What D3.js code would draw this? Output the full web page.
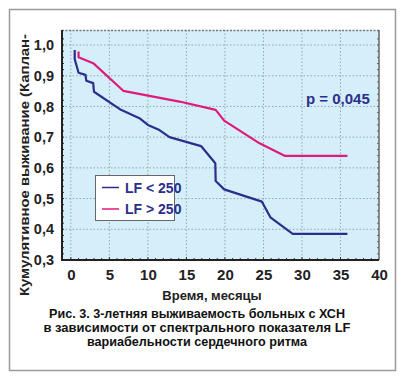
<!DOCTYPE html>
<html><head><meta charset="utf-8">
<script src="https://cdn.jsdelivr.net/npm/d3@7"></script>
<style>
html,body{margin:0;padding:0;background:#fff;}
svg text{font-family:"Liberation Sans Narrow","Liberation Sans",Arial,sans-serif;font-weight:bold;}
</style>
</head><body>
<svg id="c" width="400" height="379"></svg>
<script>
const xTicks = [0,5,10,15,20,25,30,35,40];
const yTicks = [0.3,0.4,0.5,0.6,0.7,0.8,0.9,1.0];
const seriesNames = ["LF < 250","LF > 250"];
const seriesColors = ["#2b2e8c","#e0197d"];
const timeLow = [0.5,0.5,1.0,1.9,2.0,2.9,3.0,6.5,8.9,10.0,11.5,12.8,16.9,18.75,18.8,19.9,24.8,25.9,28.8,35.9];
const survLow = [0.984,0.954,0.910,0.903,0.884,0.876,0.848,0.789,0.762,0.740,0.723,0.700,0.671,0.615,0.557,0.530,0.490,0.439,0.385,0.385];
const timeHigh = [1.0,1.0,2.9,6.8,14.1,18.8,19.9,24.5,27.8,35.9];
const survHigh = [0.979,0.960,0.941,0.851,0.816,0.789,0.754,0.680,0.639,0.639];
const pText = "p = 0,045";
const xTitle = "Время, месяцы";
const yTitle = "Кумулятивное выживание (Каплан-";
const caption = ["Рис. 3. 3-летняя выживаемость больных с ХСН","в зависимости от спектрального показателя LF","вариабельности сердечного ритма"];

const svg = d3.select("#c");
const L=62,R=379,T=30,B=260;
const x = d3.scaleLinear().domain([-1.15,40]).range([L,R]);
const y = d3.scaleLinear().domain([0.3,1.049]).range([B,T]);

// outer frame
svg.append("rect").attr("x",9.5).attr("y",9.5).attr("width",386).attr("height",361)
  .attr("fill","#fff").attr("stroke","#9a9a9a").attr("stroke-width",1.5);

// plot bg
svg.append("rect").attr("x",L).attr("y",T).attr("width",R-L).attr("height",B-T).attr("fill","#d5effa");

// grid
const g = svg.append("g");
g.selectAll(".vg").data(xTicks.filter(d=>d<40)).enter().append("line")
  .attr("x1",d=>x(d)).attr("x2",d=>x(d)).attr("y1",T).attr("y2",B)
  .attr("stroke","#9aa3a8").attr("stroke-width",1).attr("stroke-dasharray","1.5,2");
g.selectAll(".hg").data(yTicks.filter(d=>d>0.3)).enter().append("line")
  .attr("x1",L).attr("x2",R).attr("y1",d=>y(d)).attr("y2",d=>y(d))
  .attr("stroke","#9aa3a8").attr("stroke-width",1).attr("stroke-dasharray","1.5,2");

// top and right borders
svg.append("line").attr("x1",L).attr("x2",R).attr("y1",T+0.5).attr("y2",T+0.5)
  .attr("stroke","#777").attr("stroke-width",1.5).attr("stroke-dasharray","2,1.5");
svg.append("line").attr("x1",R).attr("x2",R).attr("y1",T).attr("y2",B)
  .attr("stroke","#666").attr("stroke-width",1.5);

// axes
const xAxis = d3.axisBottom(x).tickValues(xTicks).tickSize(0).tickPadding(9).tickFormat(d=>d);
const xa = svg.append("g").attr("transform",`translate(0,${B})`).call(xAxis);
xa.select(".domain").remove();
xa.selectAll("text").attr("font-size",15).attr("fill","#222");
const yAxis = d3.axisLeft(y).tickValues(yTicks).tickSize(0).tickPadding(8).tickFormat(d=>d3.format(".1f")(d).replace(".",","));
const ya = svg.append("g").attr("transform",`translate(${L},0)`).call(yAxis);
ya.select(".domain").remove();
ya.selectAll("text").attr("font-size",14.5).attr("fill","#222");

// minor ticks
const xMinor = d3.range(0,40,1);
svg.append("g").selectAll("line").data(xMinor).enter().append("line")
  .attr("x1",d=>x(d)).attr("x2",d=>x(d)).attr("y1",B).attr("y2",d=>B-(d%5===0?3:2))
  .attr("stroke","#333").attr("stroke-width",1);
const yMinor = d3.range(0.32,1.04,0.02);
svg.append("g").selectAll("line").data(yMinor).enter().append("line")
  .attr("x1",L).attr("x2",L+2).attr("y1",d=>y(d)).attr("y2",d=>y(d))
  .attr("stroke","#333").attr("stroke-width",1);
svg.append("g").selectAll("line").data(yMinor).enter().append("line")
  .attr("x1",R).attr("x2",R-2).attr("y1",d=>y(d)).attr("y2",d=>y(d))
  .attr("stroke","#666").attr("stroke-width",1);

svg.append("line").attr("x1",L).attr("x2",L).attr("y1",T).attr("y2",B+1)
  .attr("stroke","#222").attr("stroke-width",2);
svg.append("line").attr("x1",L-1).attr("x2",R).attr("y1",B).attr("y2",B)
  .attr("stroke","#222").attr("stroke-width",2);

// lines
const line = d3.line().x(d=>x(d[0])).y(d=>y(d[1]));
const sLow = timeLow.map((t,i)=>[t,survLow[i]]);
const sHigh = timeHigh.map((t,i)=>[t,survHigh[i]]);
svg.append("path").datum(sHigh).attr("d",line).attr("fill","none")
  .attr("stroke",seriesColors[1]).attr("stroke-width",2.2).attr("stroke-linejoin","round");
svg.append("path").datum(sLow).attr("d",line).attr("fill","none")
  .attr("stroke",seriesColors[0]).attr("stroke-width",2.2).attr("stroke-linejoin","round");

// p value
svg.append("text").attr("x",306).attr("y",104).attr("font-size",15).attr("fill","#2b2e8c").text(pText);

// legend
const lg = svg.append("g");
lg.append("rect").attr("x",95.5).attr("y",175.5).attr("width",79).attr("height",45)
  .attr("fill","#fff").attr("stroke","#666").attr("stroke-width",1);
seriesNames.forEach((n,i)=>{
  const yy = 187.5 + i*21.5;
  lg.append("line").attr("x1",102).attr("x2",119).attr("y1",yy).attr("y2",yy)
    .attr("stroke",seriesColors[i]).attr("stroke-width",1.5);
  lg.append("text").attr("x",125).attr("y",yy+5).attr("font-size",14).attr("fill","#2b2e8c").text(n);
});

// titles
svg.append("text").attr("x",212).attr("y",300).attr("text-anchor","middle").attr("font-size",13).attr("fill","#222").text(xTitle);
svg.append("text").attr("transform","translate(29,165) rotate(-90)").attr("text-anchor","middle")
  .attr("font-size",12.5).attr("fill","#222").attr("textLength",262).attr("lengthAdjust","spacingAndGlyphs").text(yTitle);

// caption
const capY=[318,332,346], capSize=[13.5,12.5,12.5], capW=[296,307,220];
caption.forEach((c,i)=>{
  svg.append("text").attr("x",197).attr("y",capY[i]).attr("text-anchor","middle")
    .attr("font-size",capSize[i]).attr("fill","#111")
    .attr("textLength",capW[i]).attr("lengthAdjust","spacingAndGlyphs").text(c);
});
</script>
</body></html>
